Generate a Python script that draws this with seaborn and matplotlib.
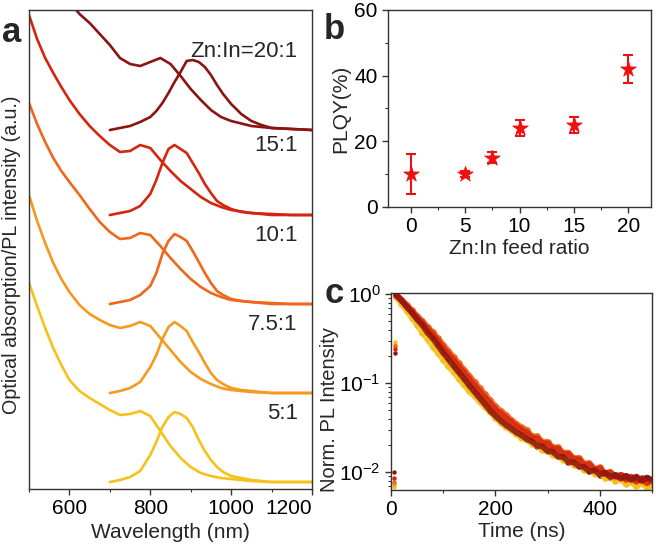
import numpy as np
import pandas as pd
import matplotlib
matplotlib.use("Agg")
import matplotlib.pyplot as plt
import seaborn as sns
from matplotlib.ticker import MultipleLocator, LogLocator, NullFormatter

# --------------------------
# Data
# --------------------------
ratios = ["5:1", "7.5:1", "10:1", "15:1", "20:1"]
colors = ["#f5c21b", "#f59a1f", "#f0661c", "#d4260f", "#8c1410"]

# panel a: absorption + PL spectra (height above each trace's baseline, a.u.)
abs_wl = [500, 520, 540, 560, 580, 600, 625, 650, 675, 700, 725, 750, 775, 800,
          825, 850, 875, 900, 925, 950, 975, 1000, 1050, 1100, 1150, 1200]
abs_5 = [199, 176, 154, 134, 117, 102, 91, 84, 78, 72, 67, 68, 71, 66,
         51, 36, 24, 15, 9, 6, 4, 3, 1, 0, 0, 0]
abs_75 = [198, 172, 150, 130, 114, 101, 88, 79, 73, 68, 65, 67, 71, 67,
          55, 43, 31, 21, 14, 9, 5, 3, 1, 0, 0, 0]
abs_10 = [201, 180, 162, 146, 133, 122, 109, 95, 82, 72, 65, 66, 71, 69,
          58, 46, 35, 25, 17, 11, 7, 4, 2, 1, 0, 0]
abs_15 = [200, 176, 157, 142, 128, 115, 101, 89, 79, 70, 63, 64, 70, 67,
          55, 44, 34, 26, 18, 12, 8, 5, 2, 1, 0, 0]
abs_20 = [175, 165, 155, 146, 138, 128, 116, 107, 96, 85, 72, 66, 64, 68,
          72, 66, 54, 41, 30, 20, 13, 9, 4, 2, 1, 0]

pl_wl = [700, 725, 750, 775, 800, 815, 830, 845, 860, 875, 890, 905, 920, 935,
         950, 965, 980, 1000, 1025, 1050, 1075, 1100, 1150, 1200]
pl_5 = [0, 2, 5, 11, 27, 40, 55, 65, 70, 68, 64, 55, 42, 31,
        22, 15, 10, 6, 4, 2, 1, 0, 0, 0]
pl_75 = [0, 2, 5, 11, 26, 38, 54, 66, 71, 67, 62, 51, 41, 30,
         20, 13, 9, 5, 3, 2, 1, 0, 0, 0]
pl_10 = [0, 2, 4, 9, 18, 31, 50, 63, 70, 67, 63, 53, 42, 31,
         21, 13, 9, 5, 3, 2, 1, 0, 0, 0]
pl_15 = [0, 2, 4, 9, 21, 35, 52, 66, 70, 66, 62, 52, 42, 31,
         22, 14, 10, 6, 3, 2, 1, 0, 0, 0]
pl_20 = [0, 2, 4, 8, 13, 19, 27, 37, 48, 58, 69, 70, 68, 63,
         55, 45, 36, 26, 16, 9, 5, 2, 1, 0]

abs_list = [abs_5, abs_75, abs_10, abs_15, abs_20]
pl_list = [pl_5, pl_75, pl_10, pl_15, pl_20]
baselines = [7, 96, 185, 274, 359]
label_texts = ["5:1", "7.5:1", "10:1", "15:1", "Zn:In=20:1"]

# panel b: PLQY vs feed ratio
feed_ratio = [0, 5, 7.5, 10, 15, 20]
plqy = [10.0, 10.0, 15.0, 24.0, 25.0, 42.0]
plqy_err = [6.0, 1.0, 1.6, 2.5, 2.5, 4.3]

# panel c: normalized PL decay
decay_t = np.arange(10, 501, 10)
rise_t = [5, 8]
decay_5 = [0.93, 0.78, 0.65, 0.54, 0.45, 0.37, 0.31, 0.257, 0.219, 0.182,
           0.155, 0.132, 0.112, 0.095, 0.081, 0.071, 0.062, 0.054, 0.047, 0.041,
           0.036, 0.032, 0.0295, 0.0269, 0.0245, 0.0232, 0.0207, 0.0199, 0.0178, 0.0173,
           0.0155, 0.0152, 0.0136, 0.0135, 0.0120, 0.0120, 0.0106, 0.0108, 0.0095, 0.0097,
           0.0086, 0.0089, 0.0079, 0.0083, 0.0073, 0.0078, 0.0069, 0.0075, 0.0067, 0.0072]
decay_75 = [0.96, 0.84, 0.72, 0.62, 0.53, 0.46, 0.39, 0.335, 0.285, 0.24,
            0.203, 0.172, 0.146, 0.124, 0.105, 0.089, 0.076, 0.065, 0.056, 0.048,
            0.043, 0.038, 0.034, 0.031, 0.028, 0.0262, 0.0233, 0.0222, 0.0201, 0.0193,
            0.0174, 0.0168, 0.0152, 0.0148, 0.0134, 0.0131, 0.0119, 0.0117, 0.0106, 0.0106,
            0.0096, 0.0098, 0.0088, 0.0092, 0.0082, 0.0087, 0.0078, 0.0084, 0.0076, 0.0081]
decay_10 = [0.99, 0.87, 0.76, 0.66, 0.57, 0.50, 0.43, 0.375, 0.32, 0.27,
            0.23, 0.196, 0.167, 0.142, 0.121, 0.103, 0.088, 0.075, 0.064, 0.055,
            0.049, 0.044, 0.039, 0.035, 0.032, 0.0298, 0.0254, 0.0252, 0.0220, 0.0219,
            0.0190, 0.0190, 0.0165, 0.0166, 0.0143, 0.0145, 0.0125, 0.0126, 0.0109, 0.0113,
            0.0097, 0.0101, 0.0089, 0.0093, 0.0082, 0.0088, 0.0078, 0.0084, 0.0075, 0.0081]
decay_15 = [0.98, 0.86, 0.74, 0.64, 0.55, 0.48, 0.41, 0.355, 0.30, 0.25,
            0.214, 0.182, 0.155, 0.132, 0.112, 0.095, 0.081, 0.069, 0.060, 0.051,
            0.046, 0.041, 0.037, 0.033, 0.030, 0.0280, 0.0243, 0.0240, 0.0212, 0.0210,
            0.0183, 0.0184, 0.0160, 0.0161, 0.0139, 0.0140, 0.0121, 0.0122, 0.0107, 0.0110,
            0.0096, 0.0099, 0.0089, 0.0093, 0.0083, 0.0089, 0.0079, 0.0085, 0.0076, 0.0082]
decay_20 = [0.97, 0.85, 0.72, 0.62, 0.52, 0.45, 0.37, 0.32, 0.265, 0.22,
            0.186, 0.156, 0.132, 0.112, 0.094, 0.080, 0.068, 0.058, 0.049, 0.043,
            0.038, 0.034, 0.031, 0.028, 0.026, 0.0235, 0.0222, 0.0198, 0.0195, 0.0172,
            0.0170, 0.0150, 0.0148, 0.0131, 0.0129, 0.0116, 0.0114, 0.0102, 0.0105, 0.0094,
            0.0099, 0.0088, 0.0093, 0.0085, 0.0091, 0.0082, 0.0089, 0.0080, 0.0087, 0.0082]
rise_5 = [0.0068, 0.29]
rise_75 = [0.0074, 0.27]
rise_10 = [0.0078, 0.26]
rise_15 = [0.0085, 0.245]
rise_20 = [0.0100, 0.22]
decay_list = [decay_5, decay_75, decay_10, decay_15, decay_20]
rise_list = [rise_5, rise_75, rise_10, rise_15, rise_20]

# --------------------------
# Style
# --------------------------
sns.set_style("ticks")
plt.rcParams["font.family"] = ["Liberation Sans", "DejaVu Sans"]
plt.rcParams["mathtext.default"] = "regular"
plt.rcParams["axes.edgecolor"] = "#333333"
plt.rcParams["axes.linewidth"] = 1.0
for k in ["xtick", "ytick"]:
    plt.rcParams[f"{k}.direction"] = "out"
    plt.rcParams[f"{k}.major.size"] = 4
    plt.rcParams[f"{k}.minor.size"] = 2.5
    plt.rcParams[f"{k}.major.width"] = 1
    plt.rcParams[f"{k}.minor.width"] = 0.8
    plt.rcParams[f"{k}.color"] = "#333333"
    plt.rcParams[f"{k}.labelcolor"] = "black"
    plt.rcParams[f"{k}.labelsize"] = 15
plt.rcParams["axes.labelsize"] = 15

fig = plt.figure(figsize=(6.56, 5.52), dpi=100)
ax_a = fig.add_axes([0.0442, 0.1141, 0.4314, 0.8678])
ax_b = fig.add_axes([0.5915, 0.625, 0.4009, 0.3569])
ax_c = fig.add_axes([0.596, 0.1123, 0.3979, 0.3569])

# --------------------------
# a. Absorption / PL spectra
# --------------------------
for ab, pl, base, col, txt in zip(abs_list, pl_list, baselines, colors, label_texts):
    sns.lineplot(x=abs_wl, y=np.array(ab) + base, ax=ax_a, color=col, lw=1.9)
    sns.lineplot(x=pl_wl, y=np.array(pl) + base, ax=ax_a, color=col, lw=1.9)
    dy = 78 if txt.startswith("Zn") else 69
    ax_a.text(1165, base + dy, txt, ha="right", va="center", fontsize=16)

ax_a.set_xlim(500, 1200)
ax_a.set_ylim(0, 479)
ax_a.set_xticks([600, 800, 1000, 1200])
ax_a.xaxis.set_minor_locator(MultipleLocator(100))
ax_a.set_yticks([])
ax_a.set_xlabel("Wavelength (nm)", labelpad=3)
ax_a.set_ylabel("Optical absorption/PL intensity (a.u.)", fontsize=14.2)
ax_a.yaxis.set_label_coords(-0.03, 0.49)
ax_a.get_xticklabels()[-1].set_horizontalalignment("right")

# --------------------------
# b. PLQY
# --------------------------
ax_b.errorbar(feed_ratio, plqy, yerr=plqy_err, fmt="none", ecolor="#e81414",
              elinewidth=1.5, capsize=3.5, capthick=1.5, zorder=2)
sns.scatterplot(x=feed_ratio, y=plqy, ax=ax_b, marker="*", s=140,
                color="#f01010", edgecolor="#f01010", linewidth=0.5, zorder=3)
ax_b.set_xlim(-2.1, 22.1)
ax_b.set_ylim(0, 60)
ax_b.set_xticks([0, 5, 10, 15, 20])
ax_b.xaxis.set_minor_locator(MultipleLocator(2.5))
ax_b.set_yticks([0, 20, 40, 60])
ax_b.yaxis.set_minor_locator(MultipleLocator(10))
ax_b.set_xlabel("Zn:In feed ratio", labelpad=2)
ax_b.set_ylabel("PLQY(%)", labelpad=3)

# --------------------------
# c. PL decay
# --------------------------
for dec, rise, col in zip(decay_list, rise_list, colors):
    sns.lineplot(x=decay_t, y=dec, ax=ax_c, color=col, lw=4.2, alpha=0.85)
    sns.scatterplot(x=decay_t, y=dec, ax=ax_c, color=col, s=22, linewidth=0)
    sns.scatterplot(x=rise_t, y=rise, ax=ax_c, color=col, s=10, linewidth=0)
ax_c.set_yscale("log")
ax_c.set_xlim(0, 500)
ax_c.set_ylim(0.0063, 1.03)
ax_c.set_xticks([0, 200, 400])
ax_c.xaxis.set_minor_locator(MultipleLocator(100))
ax_c.yaxis.set_major_locator(LogLocator(base=10, numticks=5))
ax_c.yaxis.set_minor_locator(LogLocator(base=10, subs=np.arange(2, 10), numticks=10))
ax_c.yaxis.set_minor_formatter(NullFormatter())
ax_c.set_xlabel("Time (ns)", labelpad=2)
ax_c.set_ylabel("Norm. PL Intensity", fontsize=14.5)
ax_c.yaxis.set_label_coords(-0.2, 0.41)

# panel letters
fig.text(0.017, 0.942, "a", fontsize=25, fontweight="bold", ha="center", va="center")
fig.text(0.509, 0.947, "b", fontsize=25, fontweight="bold", ha="center", va="center")
fig.text(0.509, 0.469, "c", fontsize=25, fontweight="bold", ha="center", va="center")

plt.savefig("out.png", dpi=100)
plt.close()
